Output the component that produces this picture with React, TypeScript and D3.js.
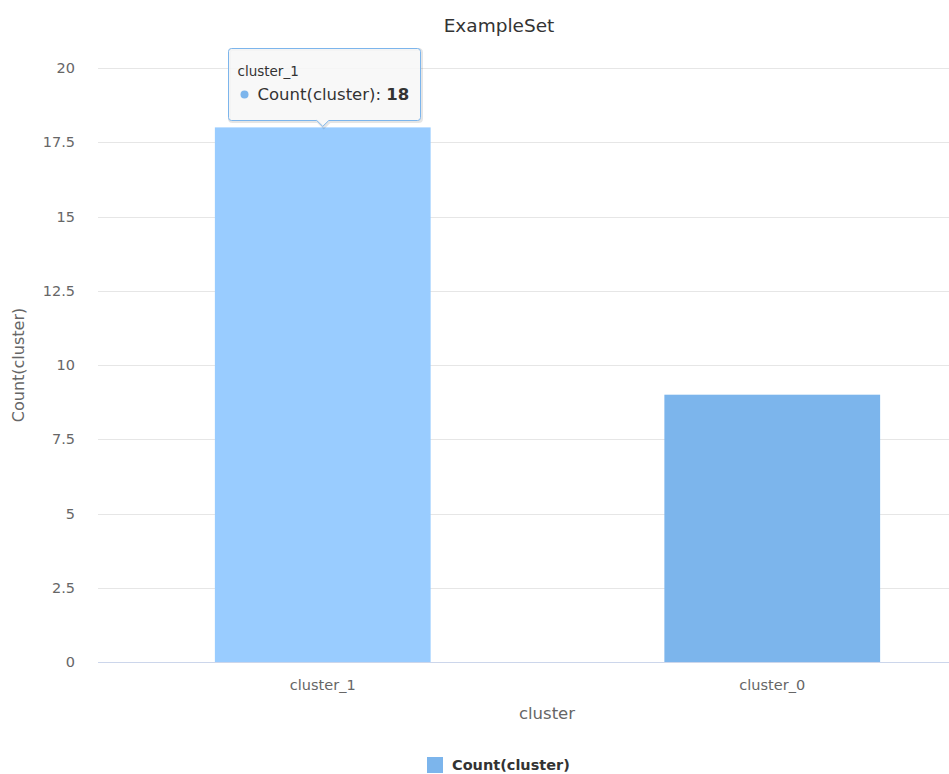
import { useEffect, useRef } from 'react';
import * as d3 from 'd3';

const categories = ['cluster_1', 'cluster_0'];
const counts = [18, 9];
const yTicks = [0, 2.5, 5, 7.5, 10, 12.5, 15, 17.5, 20];
const seriesName = 'Count(cluster)';

const width = 949;
const height = 774;
const font = '"DejaVu Sans", Verdana, sans-serif';

const App = () => {
  const svgRef = useRef<SVGSVGElement>(null!);

  useEffect(() => {
    const svg = d3.select(svgRef.current);
    svg.selectAll('*').remove();

    const left = 98;
    const right = 997; // plot runs past the visible window
    const top = 68;
    const bottom = 662;

    const x = d3.scaleBand<string>().domain(categories).range([left, right]).paddingInner(0.52).paddingOuter(0.26);
    const y = d3.scaleLinear().domain([0, 20]).range([bottom, top]);

    // gridlines
    svg
      .append('g')
      .selectAll('line')
      .data(yTicks.filter(t => t > 0))
      .enter()
      .append('line')
      .attr('x1', left)
      .attr('x2', right)
      .attr('y1', d => Math.round(y(d)) + 0.5)
      .attr('y2', d => Math.round(y(d)) + 0.5)
      .attr('stroke', '#e6e6e6');

    // y tick labels
    svg
      .append('g')
      .selectAll('text')
      .data(yTicks)
      .enter()
      .append('text')
      .attr('x', 75)
      .attr('y', d => y(d) + 5)
      .attr('text-anchor', 'end')
      .attr('font-size', 14.5)
      .attr('fill', '#666')
      .text(d => String(d));

    // bars
    svg
      .append('g')
      .selectAll('rect')
      .data(counts)
      .enter()
      .append('rect')
      .attr('x', (_, i) => x(categories[i])!)
      .attr('width', x.bandwidth())
      .attr('y', d => y(d))
      .attr('height', d => bottom - y(d))
      .attr('fill', (_, i) => (i === 0 ? '#99ccff' : '#7cb5ec'));

    // x axis line
    svg
      .append('line')
      .attr('x1', left)
      .attr('x2', right)
      .attr('y1', bottom + 0.5)
      .attr('y2', bottom + 0.5)
      .attr('stroke', '#ccd6eb');

    // x tick labels
    svg
      .append('g')
      .selectAll('text')
      .data(categories)
      .enter()
      .append('text')
      .attr('x', d => x(d)! + x.bandwidth() / 2)
      .attr('y', 690)
      .attr('text-anchor', 'middle')
      .attr('font-size', 14.5)
      .attr('fill', '#666')
      .text(d => d);

    // axis titles
    svg
      .append('text')
      .attr('x', 547)
      .attr('y', 719)
      .attr('text-anchor', 'middle')
      .attr('font-size', 16.5)
      .attr('fill', '#666')
      .text('cluster');

    svg
      .append('text')
      .attr('transform', `translate(24,${(top + bottom) / 2}) rotate(-90)`)
      .attr('text-anchor', 'middle')
      .attr('font-size', 16)
      .attr('fill', '#666')
      .text(seriesName);

    // title
    svg
      .append('text')
      .attr('x', 499)
      .attr('y', 32)
      .attr('text-anchor', 'middle')
      .attr('font-size', 18.5)
      .attr('fill', '#333')
      .text('ExampleSet');

    // legend
    const legend = svg.append('g').attr('transform', 'translate(427,757)');
    legend.append('rect').attr('width', 16).attr('height', 16).attr('fill', '#7cb5ec');
    legend
      .append('text')
      .attr('x', 25)
      .attr('y', 13)
      .attr('font-size', 14.5)
      .attr('font-weight', 'bold')
      .attr('fill', '#333')
      .text(seriesName);

    // tooltip over first bar
    const tipX = x(categories[0])! + x.bandwidth() / 2;
    const tipY = y(counts[0]);
    const bx = 228.5;
    const by = 48.5;
    const bw = 192;
    const bh = 72;
    const path = `M${bx + 3},${by} H${bx + bw - 3} Q${bx + bw},${by} ${bx + bw},${by + 3} V${by + bh - 3} Q${bx + bw},${by + bh} ${bx + bw - 3},${by + bh} H${tipX + 6} L${tipX},${tipY - 1} L${tipX - 6},${by + bh} H${bx + 3} Q${bx},${by + bh} ${bx},${by + bh - 3} V${by + 3} Q${bx},${by} ${bx + 3},${by} Z`;

    const tip = svg.append('g');
    tip
      .append('path')
      .attr('d', path)
      .attr('transform', 'translate(1,1)')
      .attr('fill', 'none')
      .attr('stroke', 'rgba(0,0,0,0.1)')
      .attr('stroke-width', 3);
    tip
      .append('path')
      .attr('d', path)
      .attr('fill', 'rgba(247,247,247,0.85)')
      .attr('stroke', '#7cb5ec')
      .attr('stroke-width', 1);
    tip
      .append('text')
      .attr('x', bx + 9)
      .attr('y', by + 27)
      .attr('font-size', 13.5)
      .attr('fill', '#333')
      .text(categories[0]);
    tip.append('circle').attr('cx', bx + 16).attr('cy', by + 46).attr('r', 4).attr('fill', '#7cb5ec');
    const line = tip
      .append('text')
      .attr('x', bx + 29)
      .attr('y', by + 51)
      .attr('font-size', 16.5)
      .attr('fill', '#333');
    line.append('tspan').text(`${seriesName}: `);
    line.append('tspan').attr('font-weight', 'bold').text(String(counts[0]));
  }, []);

  return (
    <svg
      ref={svgRef}
      width={width}
      height={height}
      style={{ position: 'absolute', left: 0, top: 0, fontFamily: font, background: '#fff' }}
    />
  );
};

export default App;
